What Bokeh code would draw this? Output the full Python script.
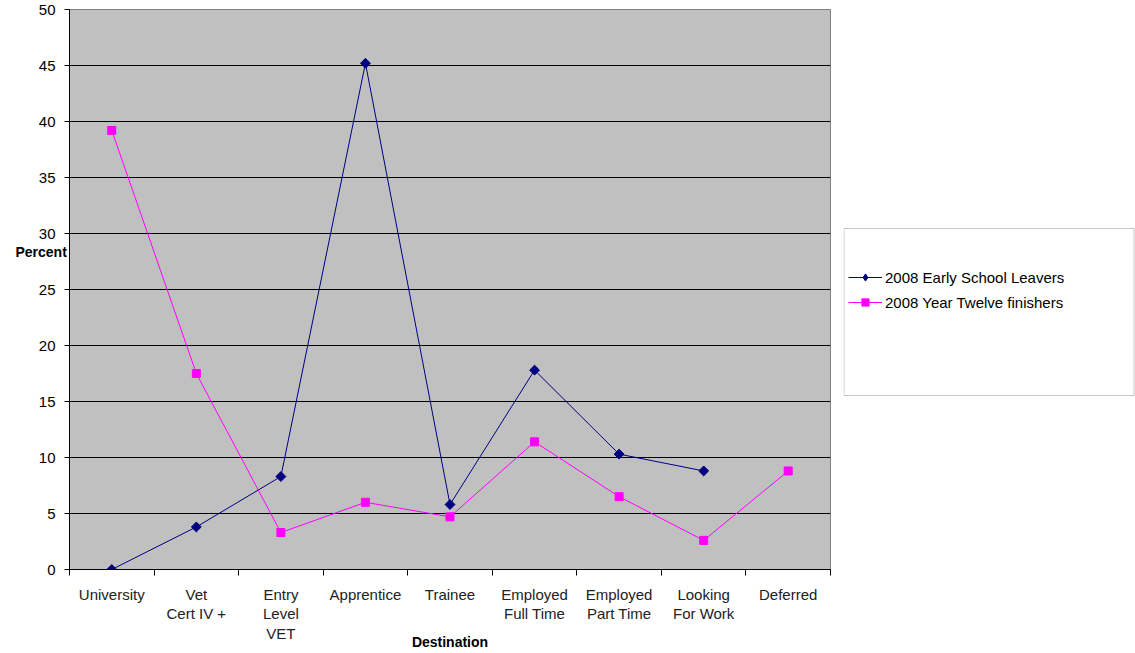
import math
import numpy as np
from bokeh.plotting import figure
from bokeh.layouts import row
from bokeh.models import Range1d, FixedTicker, Legend, LegendItem, BoxAnnotation, ColumnDataSource
from bokeh.embed import file_html
from bokeh.resources import INLINE

categories = ["University", "Vet\nCert IV +", "Entry\nLevel\nVET", "Apprentice", "Trainee",
              "Employed\nFull Time", "Employed\nPart Time", "Looking\nFor Work", "Deferred"]
early_leavers = [0.0, 3.8, 8.3, 45.2, 5.8, 17.8, 10.3, 8.8, np.nan]
year_twelve = [39.2, 17.5, 3.3, 6.0, 4.7, 11.4, 6.5, 2.6, 8.8]
y_ticks = [0, 5, 10, 15, 20, 25, 30, 35, 40, 45, 50]
series_names = ["2008 Early School Leavers", "2008 Year Twelve finishers"]
y_title = "Percent"
x_title = "Destination"

FONT = "Liberation Sans"
NAVY = "#000080"
MAGENTA = "#FF00FF"

xs = [i + 0.5 for i in range(len(categories))]

# ---------------- main chart ----------------
p = figure(width=843, height=653, output_backend="svg", toolbar_location=None,
           x_range=Range1d(0, len(categories)), y_range=Range1d(0, 50),
           min_border_left=69, min_border_right=13, min_border_top=9, min_border_bottom=84)
p.background_fill_color = "#C0C0C0"
p.border_fill_color = "white"
p.outline_line_color = "#808080"

p.xgrid.visible = False
p.ygrid.grid_line_color = "black"
p.ygrid.ticker = FixedTicker(ticks=y_ticks)

p.yaxis.ticker = FixedTicker(ticks=y_ticks)
p.yaxis.major_label_standoff = 9
p.yaxis.major_tick_in = 0
p.yaxis.major_tick_out = 5
p.yaxis.minor_tick_line_color = None
p.yaxis.axis_line_color = "black"
p.yaxis.major_tick_line_color = "black"
p.yaxis.major_label_text_font = FONT
p.yaxis.major_label_text_font_size = "15px"
p.yaxis.major_label_text_color = "black"
# horizontal title, lifted above the centre by two empty lines below it
p.yaxis.axis_label = y_title + "\n\n"
p.yaxis.axis_label_orientation = "horizontal"
p.yaxis.axis_label_text_font = FONT
p.yaxis.axis_label_text_font_style = "bold"
p.yaxis.axis_label_text_font_size = "14px"
p.yaxis.axis_label_text_color = "black"
p.yaxis.axis_label_text_line_height = 2.36
p.yaxis.axis_label_standoff = -31

p.xaxis.ticker = FixedTicker(ticks=xs, minor_ticks=list(range(len(categories) + 1)))
p.xaxis.major_label_overrides = {x: c for x, c in zip(xs, categories)}
p.xaxis.major_tick_line_color = None
p.xaxis.minor_tick_in = 0
p.xaxis.minor_tick_out = 6
p.xaxis.minor_tick_line_color = "black"
p.xaxis.axis_line_color = "black"
p.xaxis.major_label_text_font = FONT
p.xaxis.major_label_text_font_size = "15px"
p.xaxis.major_label_text_color = "#222222"
p.xaxis.major_label_text_line_height = 1.16
p.xaxis.major_label_standoff = 10
p.xaxis.axis_label = x_title
p.xaxis.axis_label_text_font = FONT
p.xaxis.axis_label_text_font_style = "bold"
p.xaxis.axis_label_text_font_size = "14px"
p.xaxis.axis_label_text_color = "black"
p.xaxis.axis_label_standoff = -11

p.line(xs, early_leavers, line_color=NAVY, line_width=1)
p.scatter(xs, early_leavers, marker="square", angle=math.pi / 4, size=7,
          fill_color=NAVY, line_color=NAVY)
p.line(xs, year_twelve, line_color=MAGENTA, line_width=1)
p.scatter(xs, year_twelve, marker="square", size=8, fill_color=MAGENTA, line_color=MAGENTA)

# ---------------- right strip: legend ----------------
p2 = figure(width=292, height=653, output_backend="svg", toolbar_location=None,
            x_range=Range1d(0, 292), y_range=Range1d(84, 644),
            x_axis_location=None, y_axis_location=None,
            min_border_left=0, min_border_right=0, min_border_top=9, min_border_bottom=84)
p2.outline_line_color = None
p2.background_fill_color = "white"
p2.border_fill_color = "white"
p2.grid.visible = False
p2.add_layout(BoxAnnotation(left=0.5, right=290.5, bottom=258, top=425,
                            fill_color="white", fill_alpha=1,
                            line_color="#444444", line_width=1))
# legend stand-ins: same styles as the chart's series, no visible data
blank = ColumnDataSource(data=dict(x=[np.nan], y=[np.nan]))
l1 = p2.line("x", "y", source=blank, line_color=NAVY, line_width=1)
s1 = p2.scatter("x", "y", source=blank, marker="diamond", size=10,
                fill_color=NAVY, line_color=NAVY)
l2 = p2.line("x", "y", source=blank, line_color=MAGENTA, line_width=1)
s2 = p2.scatter("x", "y", source=blank, marker="square", size=8,
                fill_color=MAGENTA, line_color=MAGENTA)
legend = Legend(items=[LegendItem(label=series_names[0], renderers=[l1, s1]),
                       LegendItem(label=series_names[1], renderers=[l2, s2])],
                location=(5, 258), background_fill_alpha=0, border_line_alpha=0,
                padding=0, margin=0, spacing=7, glyph_width=34, glyph_height=18,
                label_height=18, label_standoff=3,
                label_text_font=FONT, label_text_font_size="15px", label_text_color="black")
p2.add_layout(legend)

layout = row(p, p2, spacing=0)
open("out.html", "w").write(file_html(layout, INLINE))
